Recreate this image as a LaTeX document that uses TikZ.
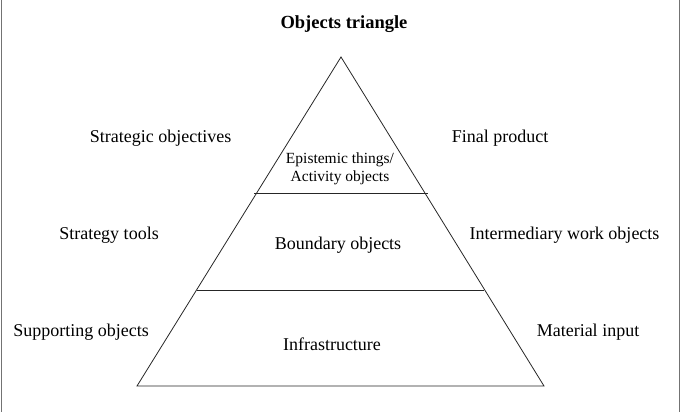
\documentclass[tikz,border=0pt]{standalone}
\usepackage{fontspec}
\setmainfont{Liberation Serif}
\begin{document}
\begin{tikzpicture}[x=1pt,y=-1pt,
  lbl/.style={inner sep=0pt,font=\fontsize{18}{20}\selectfont},
  small/.style={inner sep=0pt,align=center,font=\fontsize{15.5}{18}\selectfont},
  ttl/.style={inner sep=0pt,font=\fontsize{18.5}{21}\selectfont\bfseries},
  edge/.style={line width=0.8pt,black!85},
  frame/.style={line width=1.6pt,black!55}]
\useasboundingbox (0,0) rectangle (681,412);
% frame sides
\draw[frame] (1.5,0) -- (1.5,412);
\draw[frame] (679.5,0) -- (679.5,412);
% triangle
\coordinate (apex) at (341,57);
\coordinate (bl) at (137,386);
\coordinate (br) at (544,386);
\draw[edge,line join=miter] (apex) -- (bl) -- (br) -- cycle;
\coordinate (l1a) at (254,193);
\coordinate (l1b) at (428,193);
\coordinate (l2a) at (197,290);
\coordinate (l2b) at (484,290);
\draw[edge] (l1a) -- (l1b);
\draw[edge] (l2a) -- (l2b);
% texts
\node[ttl] (title) at (344,24) {Objects triangle};
\node[small] (epi) at (340,169) {Epistemic things/\\Activity objects};
\node[lbl] (bnd) at (338,245) {Boundary objects};
\node[lbl] (inf) at (332,344) {Infrastructure};
\node[lbl] (so) at (160.5,138) {Strategic objectives};
\node[lbl] (fp) at (500,138) {Final product};
\node[lbl] (st) at (109,235) {Strategy tools};
\node[lbl] (iw) at (564.5,235) {Intermediary work objects};
\node[lbl] (sup) at (81,332) {Supporting objects};
\node[lbl] (mi) at (588,332) {Material input};
\end{tikzpicture}
\end{document}
